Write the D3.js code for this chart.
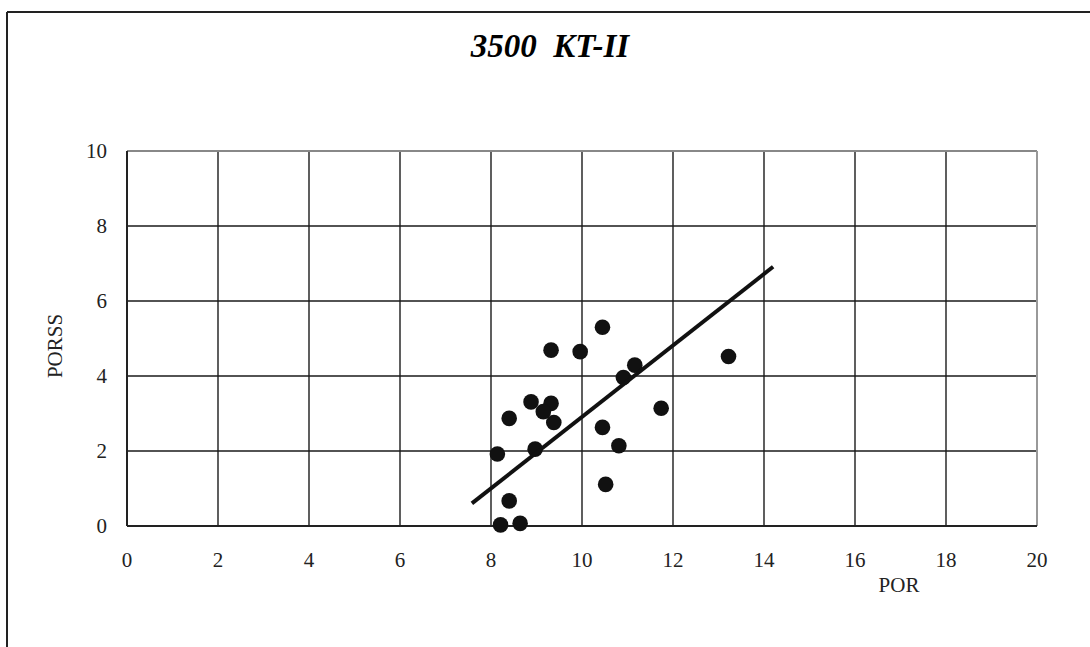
<!DOCTYPE html>
<html>
<head>
<meta charset="utf-8">
<script src="https://cdn.jsdelivr.net/npm/d3@7"></script>
<style>
  body { margin: 0; background: #fff; }
  svg { display: block; }
</style>
</head>
<body>
<svg id="mainSvg" width="1090" height="647"></svg>
<script>
// data
let porVals   = [10.45, 9.32, 9.96, 13.22, 11.16, 10.91, 8.88, 9.32, 9.15, 9.38, 8.40, 11.74, 10.45, 10.81, 8.97, 8.14, 10.52, 8.40, 8.21, 8.64];
let porssVals = [5.30, 4.69, 4.65, 4.52, 4.29, 3.96, 3.31, 3.27, 3.05, 2.76, 2.87, 3.14, 2.63, 2.14, 2.05, 1.92, 1.11, 0.67, 0.03, 0.07];
let trendX = [7.58, 14.2];
let trendSlope = 0.953;
let trendIntercept = -6.62;
let xTicks = [0, 2, 4, 6, 8, 10, 12, 14, 16, 18, 20];
let yTicks = [0, 2, 4, 6, 8, 10];

let svg = d3.select('#mainSvg');

// outer frame (top + left only, like the scan)
svg.append('line').attr('x1', 7).attr('y1', 12).attr('x2', 1090).attr('y2', 12)
  .attr('stroke', '#222').attr('stroke-width', 2);
svg.append('line').attr('x1', 7).attr('y1', 12).attr('x2', 7).attr('y2', 647)
  .attr('stroke', '#222').attr('stroke-width', 2);

svg.append('text')
  .attr('x', 550).attr('y', 57)
  .attr('text-anchor', 'middle')
  .style('font-family', '"Liberation Serif", serif')
  .style('font-weight', 'bold').style('font-style', 'italic')
  .style('font-size', '33px')
  .attr('xml:space', 'preserve')
  .text('3500  KT-II');

let x = d3.scaleLinear().domain([0, 20]).range([127, 1037]);
let y = d3.scaleLinear().domain([0, 10]).range([526, 151]);

// grid
let grid = svg.append('g');
grid.selectAll('.vg').data(xTicks.slice(1, -1)).join('line')
  .attr('x1', d => x(d)).attr('x2', d => x(d))
  .attr('y1', y(10)).attr('y2', y(0))
  .attr('stroke', '#1a1a1a').attr('stroke-width', 1.4);
grid.selectAll('.hg').data(yTicks.slice(1, -1)).join('line')
  .attr('x1', x(0)).attr('x2', x(20))
  .attr('y1', d => y(d)).attr('y2', d => y(d))
  .attr('stroke', '#1a1a1a').attr('stroke-width', 1.4);

// plot border: light top/right, dark left/bottom
svg.append('line').attr('x1', x(0)).attr('x2', x(20)).attr('y1', y(10)).attr('y2', y(10))
  .attr('stroke', '#888').attr('stroke-width', 2);
svg.append('line').attr('x1', x(20)).attr('x2', x(20)).attr('y1', y(10)).attr('y2', y(0))
  .attr('stroke', '#999').attr('stroke-width', 2);
svg.append('line').attr('x1', x(0)).attr('x2', x(0)).attr('y1', y(10)).attr('y2', y(0))
  .attr('stroke', '#222').attr('stroke-width', 2);
svg.append('line').attr('x1', x(0)).attr('x2', x(20)).attr('y1', y(0)).attr('y2', y(0))
  .attr('stroke', '#222').attr('stroke-width', 2);

// tick labels
let labelFont = '"Liberation Serif", serif';
svg.selectAll('.xl').data(xTicks).join('text')
  .attr('x', d => x(d)).attr('y', 567)
  .attr('text-anchor', 'middle')
  .style('font-family', labelFont).style('font-size', '21px')
  .attr('fill', '#222')
  .text(d => d);
svg.selectAll('.yl').data(yTicks).join('text')
  .attr('x', 107).attr('y', d => y(d) + 7)
  .attr('text-anchor', 'end')
  .style('font-family', labelFont).style('font-size', '21px')
  .attr('fill', '#222')
  .text(d => d);

// axis titles
svg.append('text')
  .attr('transform', 'translate(62,346) rotate(-90)')
  .attr('text-anchor', 'middle')
  .style('font-family', labelFont).style('font-size', '21px')
  .attr('fill', '#222')
  .text('PORSS');
svg.append('text')
  .attr('x', 899).attr('y', 592)
  .attr('text-anchor', 'middle')
  .style('font-family', labelFont).style('font-size', '21px')
  .attr('fill', '#222')
  .text('POR');

// points
let pts = porVals.map((v, i) => ({por: v, porss: porssVals[i]}));
svg.selectAll('.dot').data(pts).join('circle')
  .attr('cx', d => x(d.por)).attr('cy', d => y(d.porss))
  .attr('r', 7.8)
  .attr('fill', '#111');

// trend line
let line = d3.line().x(d => x(d)).y(d => y(trendSlope * d + trendIntercept));
svg.append('path')
  .attr('d', line(trendX))
  .attr('fill', 'none')
  .attr('stroke', '#111')
  .attr('stroke-width', 4);
</script>
</body>
</html>
